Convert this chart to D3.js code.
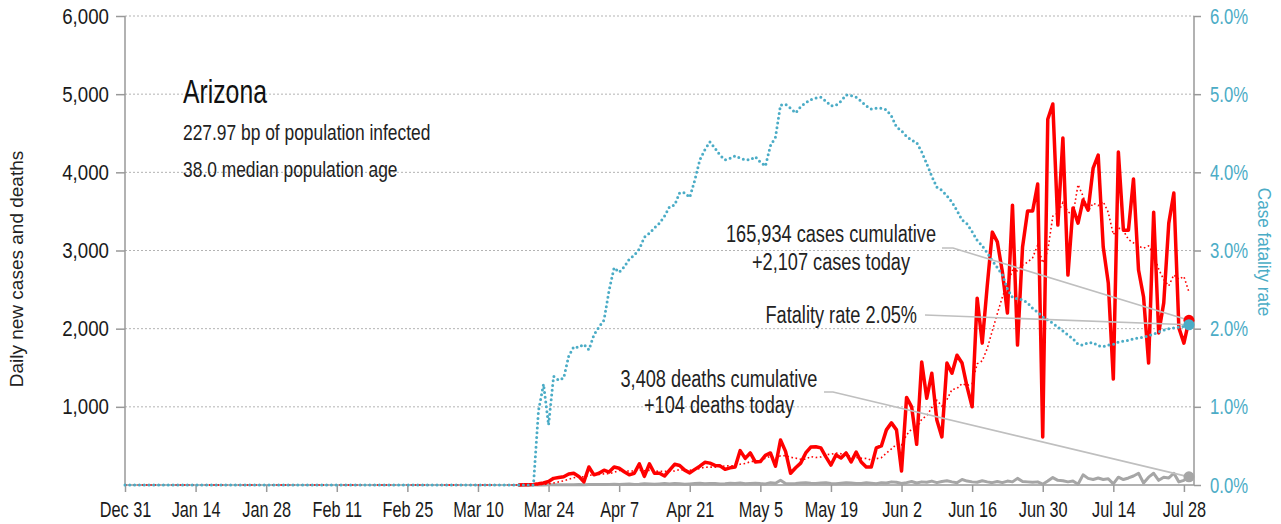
<!DOCTYPE html>
<html><head><meta charset="utf-8">
<script src="https://cdn.jsdelivr.net/npm/d3@7"></script>
<style>
body{margin:0;background:#fff;}
svg{display:block;}
text{font-family:'Liberation Sans',Arial,sans-serif;}
</style></head><body>
<svg id="chart" width="1281" height="524"></svg>
<script>
// ---------- DATA ----------
const startDate = "2019-12-31";
const endDate = "2020-07-30";
const seriesStartDate = "2020-03-18";   // first day of daily cases / deaths series

// Daily new cases, from 2020-03-18 to 2020-07-29
const cases = [
  0,2,4,8,15,25,45,85,95,105,140,150,110,40,
  230,130,150,190,165,230,215,170,130,150,270,110,270,150,150,115,190,265,250,190,155,200,240,290,280,250,245,200,220,230,
  440,340,410,295,300,380,410,240,575,430,150,220,280,410,485,490,475,360,255,385,345,410,295,420,295,230,230,475,500,705,795,705,180,
  1120,1000,520,1575,1110,1430,830,615,1560,1430,1660,1560,1255,1000,2390,1815,2550,
  3235,3110,2725,2200,3580,1790,3045,3505,3505,3850,615,4680,4875,3325,4440,2685,3545,3350,3645,3515,4055,4220,3045,2585,1355,4260,3260,3260,3915,2750,2405,1560,3490,1945,2330,3350,3735,2010,1815,2107
];

// Daily new deaths, from 2020-03-18 to 2020-07-29
const deaths = [
  0,0,0,1,1,1,2,
  2,3,2,4,3,5,4,6,5,7,6,8,10,7,9,
  12,8,10,15,12,10,14,18,12,20,16,10,14,18,22,15,18,20,12,16,22,18,25,15,20,24,18,14,30,22,
  60,
  20,15,18,25,30,22,18,25,28,20,15,22,30,25,18,20,28,22,15,30,
  25,40,35,20,30,45,25,40,35,50,30,45,55,40,30,70,50,40,35,55,
  40,30,45,30,50,40,85,45,40,35,40,10,50,95,60,55,40,50,10,130,85,70,90,70,80,15,100,70,90,115,150,25,100,150,60,100,90,150,40,60,104
];

// Case fatality rate (%), from 2019-12-31 to 2020-07-29
const fatalityRate = [
  0,0,0,0,0,0,0,0,0,0,0,0,0,0,0,0,0,0,0,0,0,0,0,0,0,0,0,0,0,0,
  0,0,0,0,0,0,0,0,0,0,0,0,0,0,0,0,0,0,0,0,0,0,0,0,0,0,0,0,0,0,
  0,0,0,0,0,0,0,0,0,0,0,0,0,0,0,0,0,0,0,0,0,0,
  0.95,1.29,0.77,1.39,1.34,1.37,1.65,1.77,1.76,1.80,1.73,1.92,2.02,2.11,2.49,2.78,2.72,2.79,
  2.89,2.94,3.02,3.17,3.22,3.29,3.35,3.44,3.56,3.58,3.74,3.74,3.68,3.90,4.16,4.29,4.39,4.31,
  4.22,4.16,4.18,4.21,4.18,4.16,4.16,4.20,4.13,4.08,4.34,4.45,4.86,4.87,4.82,4.76,4.84,4.89,
  4.93,4.95,4.96,4.91,4.85,4.86,4.91,4.99,4.98,4.96,4.91,4.85,4.81,4.82,4.82,4.80,4.72,4.58,
  4.53,4.46,4.41,4.38,4.26,4.11,3.95,3.81,3.77,3.70,3.62,3.51,3.39,3.34,3.24,3.13,3.06,2.97,
  2.87,2.78,2.69,2.51,2.40,2.38,2.37,2.33,2.26,2.21,2.15,2.11,2.07,2.02,1.97,1.92,1.87,1.80,
  1.79,1.82,1.82,1.78,1.77,1.79,1.80,1.83,1.84,1.85,1.87,1.88,1.89,1.91,1.93,1.96,1.98,2.00,
  2.01,2.02,2.03,2.05
];

const xTickLabels = ["Dec 31","Jan 14","Jan 28","Feb 11","Feb 25","Mar 10","Mar 24","Apr 7","Apr 21","May 5","May 19","Jun 2","Jun 16","Jun 30","Jul 14","Jul 28"];
const leftTicks = [1000,2000,3000,4000,5000,6000];
const rightTicks = [0,1,2,3,4,5,6];
const titleText = "Arizona";
const subtitleLines = ["227.97 bp of population infected","38.0 median population age"];
const casesNote = ["165,934 cases cumulative","+2,107 cases today"];
const fatalityNote = "Fatality rate 2.05%";
const deathsNote = ["3,408 deaths cumulative","+104 deaths today"];
const leftAxisTitle = "Daily new cases and deaths";
const rightAxisTitle = "Case fatality rate";

// ---------- CHART ----------
const svg = d3.select("#chart");
const parse = d3.utcParse("%Y-%m-%d");
const t0 = parse(startDate), t1 = parse(endDate), ts = parse(seriesStartDate);
const L = 125, R = 1194, T = 16, B = 485;
const x = d3.scaleUtc().domain([t0, t1]).range([L, R]);
const yL = d3.scaleLinear().domain([0, 6000]).range([B, T]);
const yR = d3.scaleLinear().domain([0, 6]).range([B, T]);

const BLUE = "#4bacc6", RED = "#ff0000", GREY = "#a6a6a6";

// condensed look: squeeze glyphs horizontally
function condense(sel, f){
  sel.each(function(){
    const w = this.getComputedTextLength();
    d3.select(this).attr("textLength", w*f).attr("lengthAdjust","spacingAndGlyphs");
  });
}

const caseRows = cases.map((v,i)=>({d:d3.utcDay.offset(ts,i), v}));
const deathRows = deaths.map((v,i)=>({d:d3.utcDay.offset(ts,i), v}));
const cfrRows = fatalityRate.map((v,i)=>({d:d3.utcDay.offset(t0,i), v}));
// trailing 7-day average of cases over the full date span (no cases before series start)
const lead = d3.utcDay.count(t0, ts);
const avgRows = cfrRows.map((r,i)=>{
  let s=0; for(let k=i-6;k<=i;k++){ const j=k-lead; if(j>=0 && j<cases.length) s+=cases[j]; }
  return {d:r.d, v:s/7};
});

// gridlines
svg.append("g").selectAll("line").data(leftTicks).join("line")
  .attr("x1",L).attr("x2",R).attr("y1",d=>yL(d)).attr("y2",d=>yL(d))
  .attr("stroke","#b3b3b3").attr("stroke-width",1).attr("stroke-dasharray","2,2");

// axes
const axL = svg.append("g").attr("transform",`translate(${L},0)`)
  .call(d3.axisLeft(yL).tickValues(leftTicks).tickSize(9).tickPadding(7).tickFormat(d3.format(",")));
const axR = svg.append("g").attr("transform",`translate(${R},0)`)
  .call(d3.axisRight(yR).tickValues(rightTicks).tickSize(7).tickPadding(9).tickFormat(d=>d.toFixed(1)+"%"));
const xTickDates = xTickLabels.map(s=>d3.utcParse("%b %d %Y")(s+(s.startsWith("Dec")?" 2019":" 2020")));
const axB = svg.append("g").attr("transform",`translate(0,${B})`)
  .call(d3.axisBottom(x).tickValues(xTickDates).tickSize(7).tickPadding(9).tickFormat(d3.utcFormat("%b %-d")));
[axL,axR,axB].forEach(a=>{
  a.attr("font-family",null);
  a.select(".domain").attr("stroke","#999").attr("stroke-width",1.5);
  a.selectAll(".tick line").attr("stroke","#999").attr("stroke-width",1.5);
  a.selectAll("text").attr("fill","#1a1a1a");
});
axL.select(".domain").attr("d",`M0,${T}V${B}`);
axR.select(".domain").attr("d",`M0,${T}V${B}`);
axB.select(".domain").attr("d",`M${L},0H${R}`);
axL.selectAll("text").style("font-size","22px");
axR.selectAll("text").style("font-size","22px").attr("fill",BLUE);
axB.selectAll("text").style("font-size","22px");
condense(axL.selectAll("text"),0.85);
condense(axR.selectAll("text"),0.76);
condense(axB.selectAll("text"),0.74);

// axis titles
svg.append("text").attr("transform",`translate(23,269) rotate(-90)`)
  .attr("text-anchor","middle").style("font-size","19px").attr("fill","#222").text(leftAxisTitle);
const rt = svg.append("text").attr("transform",`translate(1258,252) rotate(90)`)
  .attr("text-anchor","middle").style("font-size","19px").attr("fill",BLUE).text(rightAxisTitle);
condense(rt,0.9);

// lines
const line = (ys)=>d3.line().x(d=>x(d.d)).y(d=>ys(d.v));
svg.append("path").datum(deathRows).attr("d",line(yL)).attr("fill","none")
  .attr("stroke",GREY).attr("stroke-width",3).attr("stroke-linejoin","round");
svg.append("path").datum(caseRows).attr("d",line(yL)).attr("fill","none")
  .attr("stroke",RED).attr("stroke-width",3.5).attr("stroke-linejoin","round");
svg.append("path").datum(avgRows).attr("d",line(yL)).attr("fill","none")
  .attr("stroke",RED).attr("stroke-width",1.6).attr("stroke-dasharray","1.6,2.6");
svg.append("path").datum(cfrRows).attr("d",line(yR)).attr("fill","none")
  .attr("stroke",BLUE).attr("stroke-width",3).attr("stroke-linecap","round").attr("stroke-dasharray","0,4.8");

// title block
const tt = svg.append("text").attr("x",183).attr("y",103).style("font-size","33px").attr("fill","#111").text(titleText);
condense(tt,0.75);
const st = svg.append("g").selectAll("text").data(subtitleLines).join("text")
  .attr("x",183).attr("y",(d,i)=>140+i*37).style("font-size","22px").attr("fill","#222").text(d=>d);
condense(st,0.79);

// end points
const lastC = caseRows[caseRows.length-1], lastD = deathRows[deathRows.length-1], lastF = cfrRows[cfrRows.length-1];
const pc = [x(lastC.d), yL(lastC.v)], pd = [x(lastD.d), yL(lastD.v)], pf = [x(lastF.d), yR(lastF.v)];

// leader lines
const LEAD = "#bfbfbf";
svg.append("polyline").attr("points",`942,248 953,248 ${pc[0]},${pc[1]}`).attr("fill","none").attr("stroke",LEAD).attr("stroke-width",1.6);
svg.append("polyline").attr("points",`925,315 ${pf[0]},${pf[1]}`).attr("fill","none").attr("stroke",LEAD).attr("stroke-width",1.6);
svg.append("polyline").attr("points",`824,392 833,392 ${pd[0]},${pd[1]}`).attr("fill","none").attr("stroke",LEAD).attr("stroke-width",1.6);

svg.append("circle").attr("cx",pc[0]).attr("cy",pc[1]).attr("r",5.5).attr("fill",RED);
svg.append("circle").attr("cx",pd[0]).attr("cy",pd[1]).attr("r",5.5).attr("fill",GREY);
svg.append("circle").attr("cx",pf[0]).attr("cy",pf[1]).attr("r",5.5).attr("fill",BLUE);

// notes
const note = (txt,xx,yy,anchor)=>{
  const n = svg.append("text").attr("x",xx).attr("y",yy)
    .attr("text-anchor",anchor).style("font-size","23px").attr("fill","#222").text(txt);
  condense(n,0.79);
};
note(casesNote[0],831,242,"middle"); note(casesNote[1],831,270,"middle");
note(fatalityNote,917,323,"end");
note(deathsNote[0],719,387,"middle"); note(deathsNote[1],719,413,"middle");
</script>
</body></html>
